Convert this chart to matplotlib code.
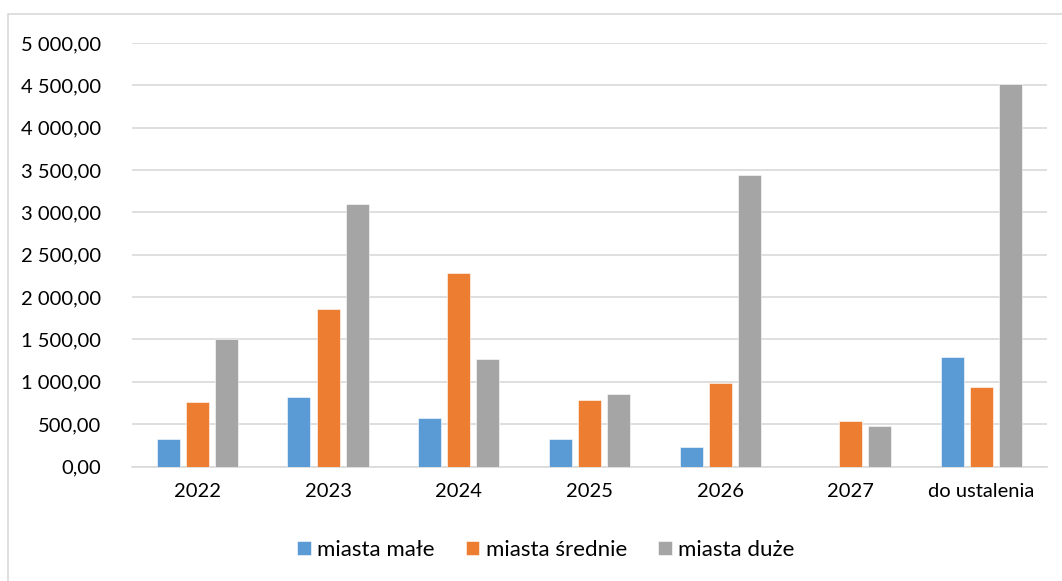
import matplotlib
matplotlib.use("Agg")
import matplotlib.pyplot as plt
import numpy as np
from matplotlib.ticker import FuncFormatter, MultipleLocator
from matplotlib.patches import Rectangle

plt.rcParams['font.family'] = ['Lato', 'DejaVu Sans']

categories = ["2022", "2023", "2024", "2025", "2026", "2027", "do ustalenia"]
series_names = ["miasta małe", "miasta średnie", "miasta duże"]
miasta_male = [324, 816, 572, 327, 236, 0, 1295]
miasta_srednie = [765, 1860, 2281, 780, 980, 535, 940]
miasta_duze = [1506, 3097, 1270, 855, 3440, 480, 4520]
colors = ["#5B9BD5", "#ED7D31", "#A5A5A5"]

W, H = 1062, 581
fig = plt.figure(figsize=(W / 100, H / 100), dpi=100)
ax = fig.add_axes([132 / W, 1 - 466.5 / H, (1046.7 - 132) / W, (466.5 - 43) / H])

x = np.arange(len(categories))
bw = 0.176
step = 0.222
handles = []
for i, (vals, name, c) in enumerate(zip([miasta_male, miasta_srednie, miasta_duze], series_names, colors)):
    b = ax.bar(x + (i - 1) * step, vals, width=bw, color=c, label=name,
               edgecolor="white", linewidth=0.4, zorder=3)
    handles.append(b)

ax.set_xlim(-0.5, len(categories) - 0.5)
ax.set_ylim(0, 5000)
ax.yaxis.set_major_locator(MultipleLocator(500))

def fmt(v, pos):
    s = f"{v:,.2f}"
    return s.replace(",", " ").replace(".", ",")

ax.yaxis.set_major_formatter(FuncFormatter(fmt))
ax.set_xticks(x)
ax.set_xticklabels(categories)
ax.tick_params(axis="both", length=0, labelsize=14.5, colors="#000000")
ax.tick_params(axis="y", pad=22)
ax.tick_params(axis="x", pad=12)
ax.grid(axis="y", color="#D9D9D9", linewidth=1.2, zorder=0)
for s in ["top", "right", "left"]:
    ax.spines[s].set_visible(False)
ax.spines["bottom"].set_color("#D9D9D9")
ax.spines["bottom"].set_linewidth(1.2)

leg = fig.legend(handles=handles, labels=series_names, loc="center",
                 bbox_to_anchor=(546 / W, 1 - 550 / H), ncol=3, frameon=False,
                 fontsize=16, handlelength=0.6, handleheight=0.6,
                 handletextpad=0.3, columnspacing=1.4)

# outer chart border (left and top visible)
fig.add_artist(Rectangle((8 / W, -0.1), 1.2, 1 - 14 / H + 0.1,
                         transform=fig.transFigure, fill=False,
                         edgecolor="#D9D9D9", linewidth=1.2))

fig.savefig("out.png", dpi=100)
